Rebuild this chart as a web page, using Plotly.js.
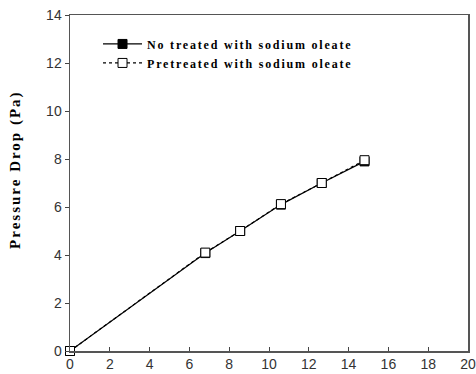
<!DOCTYPE html>
<html>
<head>
<meta charset="utf-8">
<script src="https://cdn.plot.ly/plotly-3.0.1.min.js"></script>
<style>
html,body{margin:0;padding:0;background:#fff}
#chart{width:476px;height:374px}
/* spaced-out lettering for legend entries and the axis caption;
   left unscoped so Plotly's text measurement sees it too */
.legendtext{letter-spacing:1.8px}
.annotation-text{letter-spacing:2px}
</style>
</head>
<body>
<div id="chart"></div>
<script>
// Flow velocity vs pressure drop, two bed treatments
const velocity = [0, 6.8, 8.55, 10.6, 12.65, 14.8];
const dropUntreated = [0, 4.08, 5.0, 6.1, 7.0, 7.9];
const dropPretreated = [0, 4.1, 5.0, 6.12, 7.0, 7.95];
const seriesNames = ['No treated with sodium oleate', 'Pretreated with sodium oleate'];
const yTitle = 'Pressure Drop (Pa)';
const xTicks = [0, 2, 4, 6, 8, 10, 12, 14, 16, 18, 20];
const yTicks = [0, 2, 4, 6, 8, 10, 12, 14];

const serif = 'Liberation Serif, Times New Roman, serif';
const sans = 'Liberation Sans, Arial, sans-serif';

const traces = [
  {
    x: velocity, y: dropUntreated, name: seriesNames[0],
    mode: 'lines+markers', type: 'scatter', cliponaxis: false,
    line: {color: '#000', width: 1.2, dash: 'solid'},
    marker: {symbol: 'square', size: 9, color: '#000', line: {color: '#000', width: 1}}
  },
  {
    x: velocity, y: dropPretreated, name: seriesNames[1],
    mode: 'lines+markers', type: 'scatter', cliponaxis: false,
    line: {color: '#000', width: 1.2, dash: 'dot'},
    marker: {symbol: 'square', size: 9, color: '#fff', line: {color: '#000', width: 1}}
  }
];

const axisBase = {
  showline: true, linecolor: '#555', linewidth: 1.5, mirror: true,
  showgrid: false, zeroline: false,
  tickfont: {family: sans, size: 14, color: '#333'},
  tickcolor: '#444', ticklen: 4, tickwidth: 1, tickmode: 'array'
};

const layout = {
  width: 476, height: 374,
  margin: {l: 70, r: 8, t: 15, b: 23},
  paper_bgcolor: '#fff', plot_bgcolor: '#fff',
  showlegend: true,
  legend: {
    x: 0.0704, y: 0.957, xanchor: 'left', yanchor: 'top',
    bgcolor: 'rgba(0,0,0,0)',
    font: {family: serif, size: 12, color: '#000', weight: 'bold'},
    tracegroupgap: 0, itemwidth: 39
  },
  xaxis: Object.assign({}, axisBase, {
    range: [0, 20], tickvals: xTicks, ticks: 'inside'
  }),
  yaxis: Object.assign({}, axisBase, {
    range: [0, 14], tickvals: yTicks, ticks: 'outside'
  }),
  annotations: [{
    text: yTitle, xref: 'paper', yref: 'paper',
    x: -0.1357, y: 0.539, xanchor: 'center', yanchor: 'middle',
    textangle: -90, showarrow: false,
    font: {family: serif, size: 15, color: '#000', weight: 'bold'}
  }]
};

Plotly.newPlot('chart', traces, layout, {displayModeBar: false, staticPlot: true});
</script>
</body>
</html>
